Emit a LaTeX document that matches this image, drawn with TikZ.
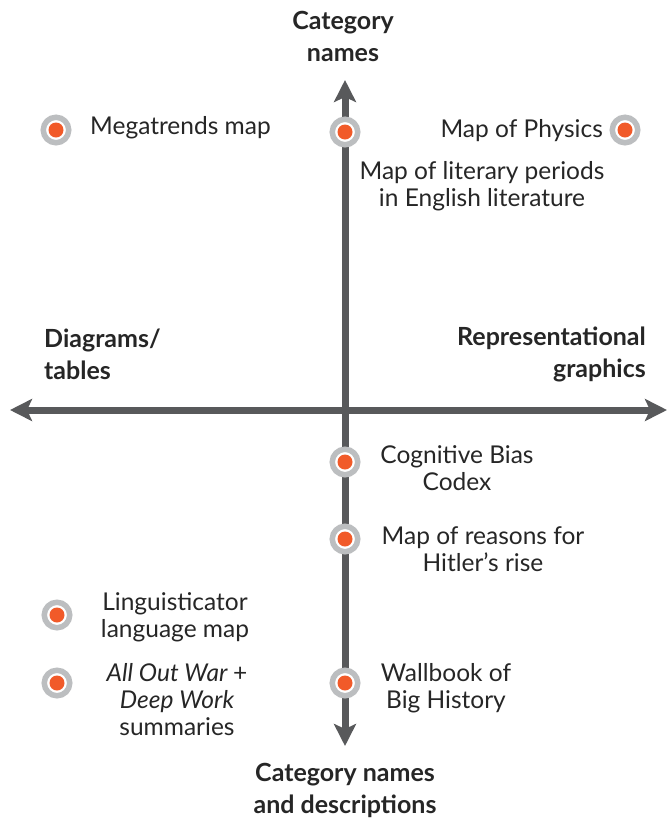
\documentclass[tikz,border=0pt]{standalone}
\usepackage{fontspec}
\setmainfont{Lato}
\usetikzlibrary{arrows.meta}
\definecolor{axisgray}{HTML}{58595B}
\definecolor{ringgray}{HTML}{BCBEC0}
\definecolor{dotorange}{HTML}{F15A29}
\begin{document}
\begin{tikzpicture}[x=1pt,y=-1pt,
  axisline/.style={line width=7pt,draw=axisgray,-{Stealth[length=22pt,width=22pt,inset=5pt]}},
  marker/.style={circle,draw=ringgray,line width=5.5pt,fill=white,minimum size=25.5pt,inner sep=0pt,
     path picture={\fill[dotorange] (path picture bounding box.center) circle (7.5pt);}},
  lbl/.style={font=\fontsize{24.5}{27}\selectfont,text=black!85,inner sep=0pt},
  head/.style={font=\fontsize{25}{32}\selectfont\bfseries,text=black!85,inner sep=0pt}]
\useasboundingbox (0,0) rectangle (667,820);
\coordinate (c) at (345,410);
\coordinate (L) at (10,410);
\coordinate (R) at (667,410);
\coordinate (T) at (345,80);
\coordinate (B) at (345,746);
\draw[axisline] (c) -- (L);
\draw[axisline] (c) -- (R);
\draw[axisline] (c) -- (T);
\draw[axisline] (c) -- (B);
% headings
\node[head,align=center] (hT) at (343,36) {Category\\names};
\node[head,align=center] (hB) at (345,790) {Category names\\and descriptions};
\node[head,align=left,anchor=west] (hL) at (44,354) {Diagrams/\\tables};
\node[head,align=right,anchor=east] (hR) at (646,354) {Representational\\graphics};
% markers
\node[marker] (m1) at (56,130) {};
\node[marker] (m2) at (345,132) {};
\node[marker] (m3) at (625,130) {};
\node[marker] (m4) at (345,462) {};
\node[marker] (m5) at (345,539) {};
\node[marker] (m6) at (57,615) {};
\node[marker] (m7) at (57,683) {};
\node[marker] (m8) at (345,683) {};
% labels
\node[lbl,anchor=west] (t1) at (90,128) {Megatrends map};
\node[lbl,anchor=east] (t3) at (603,131) {Map of Physics};
\node[lbl,align=center] (t2) at (482,186) {Map of literary periods\\in English literature};
\node[lbl,align=center] (t4) at (457,468) {Cognitive Bias\\Codex};
\node[lbl,align=center] (t5) at (483,549) {Map of reasons for\\Hitler’s rise};
\node[lbl,align=center] (t6) at (175,617) {Linguisticator\\language map};
\node[lbl,align=center] (t7) at (177,700) {\itshape All Out War \upshape +\\\itshape Deep Work\\summaries};
\node[lbl,align=center] (t8) at (446,688) {Wallbook of\\Big History};
\end{tikzpicture}
\end{document}
